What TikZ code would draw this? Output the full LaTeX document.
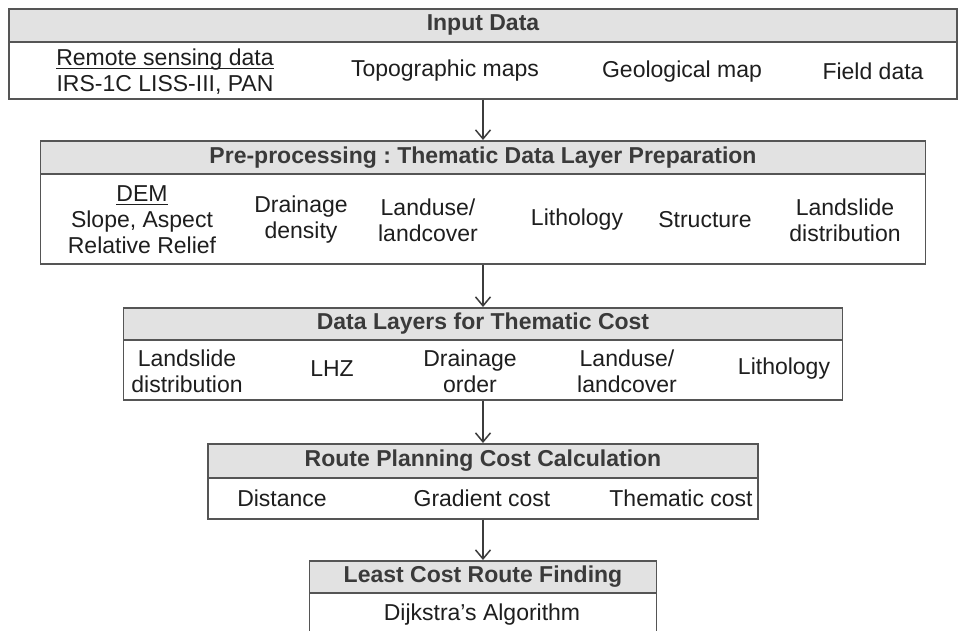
\documentclass[tikz,border=0pt]{standalone}
\usepackage{fontspec}
\setmainfont{Liberation Sans}
\usetikzlibrary{arrows.meta}
\definecolor{hdrfill}{HTML}{E2E2E2}
\definecolor{edgegray}{HTML}{555555}
\definecolor{hdrtext}{HTML}{3A3A3A}
\definecolor{bodytext}{HTML}{1E1E1E}
\newcommand{\myul}[1]{\setbox0\hbox{#1}\rlap{\rule[-3.5pt]{\wd0}{1.3pt}}\box0}
\frenchspacing
\tikzset{
 boxline/.style={draw=edgegray, line width=1.6pt, inner sep=0pt, anchor=north},
 hdr/.style={boxline, fill=hdrfill, text=hdrtext, font=\fontsize{23}{26}\selectfont\bfseries},
 bodybox/.style={boxline, fill=white},
 item/.style={text=bodytext, font=\fontsize{23}{26}\selectfont, align=center, inner sep=0pt},
 flow/.style={draw=edgegray!70!black, line width=1.5pt, -{Straight Barb[length=9pt,width=15pt,line width=1.5pt]}}
}
\begin{document}
\begin{tikzpicture}[x=1pt,y=-1pt]
\useasboundingbox (0,0) rectangle (958,630);
\clip (0,0) rectangle (958,630);
\fill[white] (0,0) rectangle (958,630);
% Box 1
\node[bodybox, minimum width=948pt, minimum height=57pt] (b1) at (483,41) {};
\node[hdr, minimum width=948pt, minimum height=33pt] (h1) at (483,8) {Input Data};
\node[item] (i11) at (165,72) {\myul{Remote sensing data}\\IRS-1C LISS-III, PAN};
\node[item] (i12) at (445,71) {Topographic maps};
\node[item] (i13) at (682,72) {Geological map};
\node[item] (i14) at (873,71) {Field data};
% Box 2
\node[bodybox, minimum width=885pt, minimum height=90pt] (b2) at (483,173) {};
\node[hdr, minimum width=885pt, minimum height=33pt] (h2) at (483,140) {Pre-processing : Thematic Data Layer Preparation};
\node[item] (i21) at (142,220) {\myul{DEM}\\Slope, Aspect\\Relative Relief};
\node[item] (i22) at (301,220) {Drainage\\density};
\node[item] (i23) at (428,220) {Landuse/\\landcover};
\node[item] (i24) at (577,220) {Lithology};
\node[item] (i25) at (705,220) {Structure};
\node[item] (i26) at (845,220) {Landslide\\distribution};
% Box 3
\node[bodybox, minimum width=719pt, minimum height=60pt] (b3) at (483,339) {};
\node[hdr, minimum width=719pt, minimum height=32pt] (h3) at (483,307) {Data Layers for Thematic Cost};
\node[item] (i31) at (187,371) {Landslide\\distribution};
\node[item] (i32) at (332,369) {LHZ};
\node[item] (i33) at (470,371) {Drainage\\order};
\node[item] (i34) at (627,371) {Landuse/\\landcover};
\node[item] (i35) at (784,369) {Lithology};
% Box 4
\node[bodybox, minimum width=550pt, minimum height=41pt] (b4) at (483,477) {};
\node[hdr, minimum width=550pt, minimum height=34pt] (h4) at (483,443) {Route Planning Cost Calculation};
\node[item] (i41) at (282,498) {Distance};
\node[item] (i42) at (482,498) {Gradient cost};
\node[item] (i43) at (681,498) {Thematic cost};
% Box 5
\node[bodybox, minimum width=347pt, minimum height=60pt] (b5) at (483,592) {};
\node[hdr, minimum width=347pt, minimum height=32pt] (h5) at (483,560) {Least Cost Route Finding};
\node[item] (i51) at (482,615) {Dijkstra’s Algorithm};
% Connectors
\draw[flow] (b1.south) -- (h2.north);
\draw[flow] (b2.south) -- (h3.north);
\draw[flow] (b3.south) -- (h4.north);
\draw[flow] (b4.south) -- (h5.north);
\end{tikzpicture}
\end{document}
